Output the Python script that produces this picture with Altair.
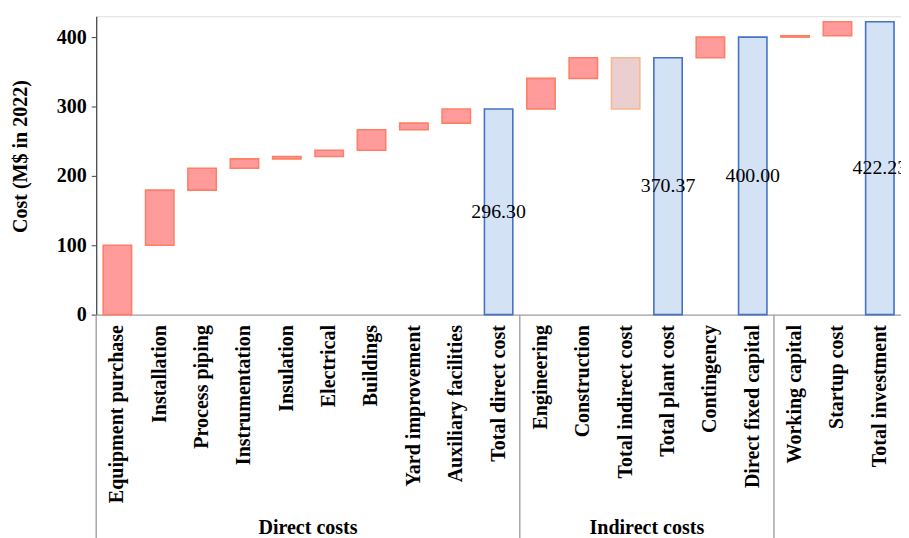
import altair as alt
import pandas as pd

# ---- data ----
categories = ["Equipment purchase", "Installation", "Process piping", "Instrumentation",
              "Insulation", "Electrical", "Buildings", "Yard improvement",
              "Auxiliary facilities", "Total direct cost", "Engineering", "Construction",
              "Total indirect cost", "Total plant cost", "Contingency",
              "Direct fixed capital", "Working capital", "Startup cost", "Total investment"]
amounts = [100.0, 79.5, 31.5, 13.5, 3.5, 9.0, 29.5, 9.5, 20.3, None,
           44.2, 29.87, None, None, 29.63, None, 2.0, 20.23, None]
kinds = ["inc"] * 9 + ["total", "inc", "inc", "sub", "total", "inc", "total", "inc", "inc", "total"]
group_names = ["Direct costs", "Indirect costs"]
group_anchor = ["Insulation", "Total indirect cost"]
separator_at = ["Equipment purchase", "Engineering", "Working capital"]

# ---- waterfall bounds ----
rows = []
running = 0.0
last_total = 0.0
for c, a, k in zip(categories, amounts, kinds):
    if k == "inc":
        lo, hi = running, running + a
        running = hi
        lab = ""
    elif k == "total":
        lo, hi = 0.0, running
        lab = f"{running:.2f}"
        last_total = running
    else:  # floating sub-total
        lo, hi = last_total, running
        lab = ""
    rows.append({"cat": c, "low": lo, "high": hi, "kind": k, "label": lab})
df = pd.DataFrame(rows)

W, H = 812, 301
step = W / len(categories)
FONT = "Liberation Serif"
FS = 20.2

xenc = alt.X("cat:N", sort=categories, scale=alt.Scale(paddingInner=0.33, paddingOuter=0.165),
             axis=alt.Axis(title=None, labelAngle=-90, ticks=False, labelPadding=10,
                           labelFont=FONT, labelFontSize=FS, labelFontWeight="bold",
                           labelColor="black", labelLimit=400, domainColor="#A6A6A6",
                           domainWidth=1.5))

base = alt.Chart(df)

bars = base.mark_bar(strokeWidth=1.6).encode(
    x=xenc,
    y=alt.Y("low:Q", scale=alt.Scale(domain=[0, 430], nice=False),
            axis=alt.Axis(values=[0, 100, 200, 300, 400], grid=False, tickSize=5,
                          tickColor="#404040", domainColor="#404040", domainWidth=1.2,
                          labelFont=FONT, labelFontSize=FS, labelFontWeight="bold",
                          labelColor="black", labelPadding=5,
                          title="Cost (M$ in 2022)", titleFont=FONT, titleFontSize=FS,
                          titleFontWeight="bold", titleColor="black",
                          titleX=-76, titleY=141, titleAngle=-90, titleAlign="center",
                          titleBaseline="middle")),
    y2="high:Q",
    fill=alt.Fill("kind:N", scale=alt.Scale(domain=["inc", "total", "sub"],
                                            range=["#FF9B9B", "#D3E2F5", "#EBCFCF"]),
                  legend=None),
    stroke=alt.Stroke("kind:N", scale=alt.Scale(domain=["inc", "total", "sub"],
                                                range=["#FF7F66", "#4472C4", "#F6B893"]),
                      legend=None),
)

labels = base.transform_filter("datum.kind == 'total'").transform_calculate(
    mid="datum.high / 2"
).mark_text(font=FONT, fontSize=20, color="black", baseline="middle", align="center").encode(
    x=alt.X("cat:N", sort=categories),
    y=alt.Y("mid:Q"),
    text="label:N",
)

gdf = pd.DataFrame({"name": group_names, "cat": group_anchor})
group_text = alt.Chart(gdf).mark_text(font=FONT, fontSize=FS, fontWeight="bold",
                                      color="black", dx=step / 2, baseline="alphabetic",
                                      align="center").encode(
    x=alt.X("cat:N", sort=categories),
    y=alt.value(522),
    text="name:N",
)

sdf = pd.DataFrame({"cat": separator_at})
seps = alt.Chart(sdf).mark_rule(color="#A6A6A6", strokeWidth=1.5, xOffset=-step / 2).encode(
    x=alt.X("cat:N", sort=categories),
    y=alt.value(H),
    y2=alt.value(H + 230),
)

chart = alt.layer(bars, labels, group_text, seps).properties(
    width=W, height=H,
    autosize=alt.AutoSizeParams(type="none"),
    padding={"left": 89, "top": 6, "right": 0, "bottom": 223},
).configure_view(stroke=None).configure(background="white")

chart.save("out.html", embed_options={"renderer": "svg", "actions": False})
